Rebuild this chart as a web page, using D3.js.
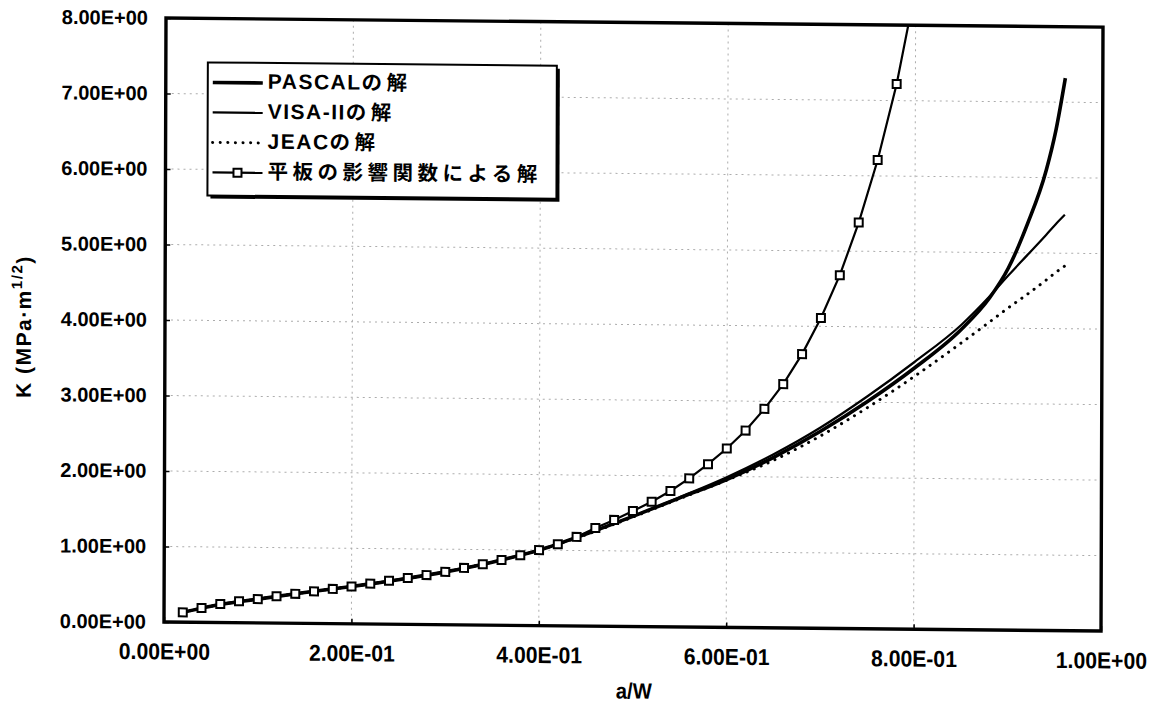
<!DOCTYPE html>
<html>
<head>
<meta charset="utf-8">
<script src="https://cdn.jsdelivr.net/npm/d3@7/dist/d3.min.js"></script>
<style>
  html, body { margin: 0; padding: 0; background: #fff; }
  svg { display: block; }
</style>
</head>
<body>
<svg id="chart" width="1156" height="709"></svg>
<script>
// Crack depth ratio a/W on the x axis, stress intensity factor K on the y axis.
const xTicks = [0, 0.2, 0.4, 0.6, 0.8, 1.0];
const xTickLabels = ["0.00E+00", "2.00E-01", "4.00E-01", "6.00E-01", "8.00E-01", "1.00E+00"];
const yTicks = [0, 1, 2, 3, 4, 5, 6, 7, 8];
const yTickLabels = ["0.00E+00", "1.00E+00", "2.00E+00", "3.00E+00", "4.00E+00",
                     "5.00E+00", "6.00E+00", "7.00E+00", "8.00E+00"];

const seriesNames = ["PASCALの解", "VISA-IIの解", "JEACの解", "平板の影響関数による解"];

// Shared a/W sampling for the three analytic solutions
const aW = [0.02, 0.05, 0.10, 0.15, 0.20, 0.25, 0.30, 0.35, 0.40, 0.45, 0.50, 0.55,
            0.60, 0.65, 0.70, 0.75, 0.80, 0.85, 0.88, 0.90, 0.92, 0.94, 0.95, 0.96];
const kPascal = [0.13, 0.215, 0.315, 0.41, 0.495, 0.59, 0.70, 0.835, 1.00, 1.22, 1.46, 1.71,
                 1.96, 2.26, 2.61, 3.01, 3.46, 3.98, 4.40, 4.80, 5.38, 6.10, 6.62, 7.32];
const kVisa   = [0.13, 0.215, 0.315, 0.41, 0.495, 0.59, 0.70, 0.835, 1.00, 1.22, 1.46, 1.72,
                 1.99, 2.30, 2.66, 3.08, 3.54, 4.04, 4.42, 4.70, 4.97, 5.24, 5.38, 5.51];
const kJeac   = [0.13, 0.215, 0.315, 0.41, 0.495, 0.59, 0.70, 0.835, 1.00, 1.21, 1.45, 1.70,
                 1.95, 2.22, 2.55, 2.93, 3.35, 3.80, 4.08, 4.27, 4.45, 4.64, 4.74, 4.83];

// Flat-plate influence function solution (plotted with square markers)
const aWPlate = [0.02, 0.04, 0.06, 0.08, 0.10, 0.12, 0.14, 0.16, 0.18, 0.20,
                 0.22, 0.24, 0.26, 0.28, 0.30, 0.32, 0.34, 0.36, 0.38, 0.40,
                 0.42, 0.44, 0.46, 0.48, 0.50, 0.52, 0.54, 0.56, 0.58, 0.60,
                 0.62, 0.64, 0.66, 0.68, 0.70, 0.72, 0.74, 0.76, 0.78, 0.80];
const kPlate  = [0.13, 0.19, 0.245, 0.285, 0.315, 0.355, 0.39, 0.425, 0.46, 0.495,
                 0.535, 0.575, 0.615, 0.655, 0.70, 0.755, 0.805, 0.865, 0.93, 1.00,
                 1.08, 1.18, 1.30, 1.41, 1.53, 1.655, 1.80, 1.97, 2.16, 2.37,
                 2.61, 2.90, 3.23, 3.63, 4.11, 4.68, 5.38, 6.21, 7.22, 8.50];

const svg = d3.select("#chart");
const L = 166, T = 18, W = 937, H = 604;
const latinFont = "'Liberation Sans', Arial, sans-serif";

// The whole figure sits on a very slightly sheared frame
const root = svg.append("g")
  .attr("transform", "matrix(1,0.0097,-0.0033,1,0.06,-1.61)");

const x = d3.scaleLinear().domain([0, 1]).range([L, L + W]);
const y = d3.scaleLinear().domain([0, 8]).range([T + H, T]);

root.append("clipPath").attr("id", "plotClip")
  .append("rect").attr("x", L).attr("y", T).attr("width", W).attr("height", H);

// Dotted grid
const grid = root.append("g").attr("stroke", "#8a8a8a").attr("stroke-width", 1)
  .attr("stroke-dasharray", "2,4").attr("opacity", 0.7);
grid.selectAll("line.h").data(yTicks.slice(1, -1)).join("line")
  .attr("x1", L).attr("x2", L + W).attr("y1", d => y(d)).attr("y2", d => y(d));
grid.selectAll("line.v").data(xTicks.slice(1, -1)).join("line")
  .attr("y1", T).attr("y2", T + H).attr("x1", d => x(d)).attr("x2", d => x(d));

// Axes (inside ticks)
const yAxis = d3.axisLeft(y).tickValues(yTicks).tickSizeInner(-5).tickSizeOuter(0)
  .tickPadding(18).tickFormat((d, i) => yTickLabels[i]);
const gy = root.append("g").attr("transform", `translate(${L},0)`).call(yAxis);
gy.select(".domain").remove();
gy.selectAll(".tick line").attr("stroke", "#000").attr("stroke-width", 1.5);
gy.selectAll(".tick text")
  .attr("font-family", latinFont)
  .attr("font-weight", "bold").attr("font-size", 20).attr("fill", "#000");

const xAxis = d3.axisBottom(x).tickValues(xTicks).tickSizeInner(-5).tickSizeOuter(0)
  .tickPadding(21).tickFormat((d, i) => xTickLabels[i]);
const gx = root.append("g").attr("transform", `translate(0,${T + H})`).call(xAxis);
gx.select(".domain").remove();
gx.selectAll(".tick line").attr("stroke", "#000").attr("stroke-width", 1.5);
gx.selectAll(".tick text")
  .attr("font-family", latinFont)
  .attr("font-weight", "bold").attr("font-size", 23).attr("fill", "#000")
  .attr("transform", "scale(0.92,1)");

// Series
const plot = root.append("g").attr("clip-path", "url(#plotClip)");
const smooth = d3.line().x(d => x(d[0])).y(d => y(d[1])).curve(d3.curveMonotoneX);
const straight = d3.line().x(d => x(d[0])).y(d => y(d[1]));

const styles = [
  { w: 3.6, dash: null },
  { w: 2.2, dash: null },
  { w: 3.0, dash: "0.1,7.5" },
  { w: 2.2, dash: null }
];

const curves = [kPascal, kVisa, kJeac];
curves.forEach((ks, i) => {
  plot.append("path")
    .datum(aW.map((a, j) => [a, ks[j]]))
    .attr("d", smooth)
    .attr("fill", "none").attr("stroke", "#000")
    .attr("stroke-width", styles[i].w)
    .attr("stroke-dasharray", styles[i].dash)
    .attr("stroke-linecap", styles[i].dash ? "round" : "butt");
});

const plateData = aWPlate.map((a, j) => [a, kPlate[j]]);
plot.append("path").datum(plateData).attr("d", straight)
  .attr("fill", "none").attr("stroke", "#000").attr("stroke-width", styles[3].w);
const ms = 8;
plot.selectAll("rect.mk").data(plateData).join("rect")
  .attr("x", d => x(d[0]) - ms / 2).attr("y", d => y(d[1]) - ms / 2)
  .attr("width", ms).attr("height", ms)
  .attr("fill", "#fff").attr("stroke", "#000").attr("stroke-width", 2);

// Plot frame
root.append("rect").attr("x", L).attr("y", T).attr("width", W).attr("height", H)
  .attr("fill", "none").attr("stroke", "#000").attr("stroke-width", 3.4);

// Axis titles
root.append("text").attr("transform", "translate(636,694) scale(0.92,1)")
  .attr("text-anchor", "middle")
  .attr("font-family", latinFont)
  .attr("font-weight", "bold").attr("font-size", 22).text("a/W");

const yt = root.append("text")
  .attr("transform", "translate(32,328) rotate(-90)")
  .attr("text-anchor", "middle")
  .attr("font-family", latinFont)
  .attr("font-weight", "bold").attr("font-size", 21)
  .attr("letter-spacing", 1.5);
yt.append("tspan").text("K (MPa·m");
yt.append("tspan").attr("font-size", 15).attr("dy", -9).text("1/2");
yt.append("tspan").attr("dy", 9).text(")");

// Legend
const lg = root.append("g");
const LX = 208, LY = 62, LW = 349, LH = 133;
lg.append("rect").attr("x", LX + 3).attr("y", LY + 3).attr("width", LW).attr("height", LH)
  .attr("fill", "#000");
lg.append("rect").attr("x", LX).attr("y", LY).attr("width", LW).attr("height", LH)
  .attr("fill", "#fff").attr("stroke", "#000").attr("stroke-width", 2);
const rowY = [82, 112, 142, 172];
const cjkRun = /[\u3040-\u30ff\u3400-\u9fff]+|[^\u3040-\u30ff\u3400-\u9fff]+/g;
const isCjk = s => /[\u3040-\u30ff\u3400-\u9fff]/.test(s);
seriesNames.forEach((name, i) => {
  const ry = rowY[i];
  lg.append("line").attr("x1", 213).attr("x2", 263).attr("y1", ry).attr("y2", ry)
    .attr("stroke", "#000").attr("stroke-width", styles[i].w)
    .attr("stroke-dasharray", styles[i].dash)
    .attr("stroke-linecap", styles[i].dash ? "round" : "butt");
  if (i === 3) {
    lg.append("rect").attr("x", 238 - ms / 2).attr("y", ry - ms / 2)
      .attr("width", ms).attr("height", ms)
      .attr("fill", "#fff").attr("stroke", "#000").attr("stroke-width", 2);
  }
  const t = lg.append("text").attr("x", 268).attr("y", ry).attr("dy", "0.36em")
    .attr("font-weight", "bold");
  // Latin runs and Japanese runs are set separately; the Japanese glyphs are spaced wider
  name.match(cjkRun).forEach(r => {
    const jp = isCjk(r);
    t.append("tspan")
      .attr("font-size", jp ? 20.5 : 21)
      .attr("letter-spacing", jp ? 4.5 : 1.5)
      .attr("font-family", jp ? "'Noto Sans CJK JP', sans-serif" : latinFont)
      .text(r);
  });
});
</script>
</body>
</html>
